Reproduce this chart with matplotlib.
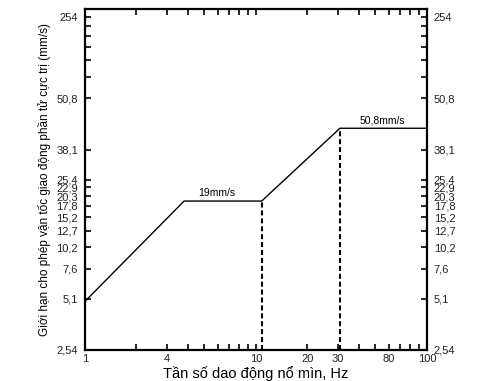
import matplotlib
matplotlib.use("Agg")
import matplotlib.pyplot as plt

# ---- data ----
freq = [1, 3.8, 10.8, 31, 100]          # Hz
vel = [4.9, 19, 19, 50.8, 50.8]         # mm/s
dash_freq = [10.8, 31]
dash_top = [19, 50.8]

# tick positions (log scale) and their printed labels as in the picture
x_tick_pos = [1, 2, 3, 4, 5, 6, 7, 8, 9, 10, 20, 30, 40, 50, 60, 70, 80, 90, 100]
x_label_pos = [1, 3, 10, 20, 30, 60, 100]
x_label_txt = ["1", "4", "10", "20", "30", "80", "100"]

base = 2.54
y_mult = [1, 2, 3, 4, 5, 6, 7, 8, 9, 10, 15, 30, 40, 50, 60, 70, 80, 90, 100]
y_label_mult = [1, 2, 3, 4, 5, 6, 7, 8, 9, 10, 15, 30, 90]
y_label_txt = ["2,54", "5,1", "7,6", "10,2", "12,7", "15,2", "17,8", "20,3",
               "22,9", "25,4", "38,1", "50,8", "254"]

annot_txt = ["19mm/s", "50,8mm/s"]
annot_x = [5.9, 55]
annot_y = [19, 50.8]

plt.rcParams['font.family'] = ['Liberation Sans', 'DejaVu Sans']

fig = plt.figure(figsize=(4.97, 3.81), dpi=100)
ax = fig.add_axes([0.171, 0.0814, 0.688, 0.8946])
ax.set_xscale('log')
ax.set_yscale('log')
ax.set_xlim(1, 100)
ax.set_ylim(base, base * 100)

ax.plot(freq, vel, color='black', lw=1.0, solid_joinstyle='miter')
for fx, ft in zip(dash_freq, dash_top):
    ax.plot([fx, fx], [base, ft], color='black', lw=1.5, linestyle=(0, (2.4, 1.4)))

for t, xx, yy in zip(annot_txt, annot_x, annot_y):
    ax.text(xx, yy * 1.04, t, ha='center', va='bottom', fontsize=7.5)

# ticks
ax.xaxis.set_major_locator(matplotlib.ticker.FixedLocator(x_tick_pos))
lab = []
for p in x_tick_pos:
    lab.append(x_label_txt[x_label_pos.index(p)] if p in x_label_pos else "")
ax.xaxis.set_major_formatter(matplotlib.ticker.FixedFormatter(lab))
ax.xaxis.set_minor_locator(matplotlib.ticker.NullLocator())

y_pos = [base * m for m in y_mult]
ylab = []
for m in y_mult:
    ylab.append(y_label_txt[y_label_mult.index(m)] if m in y_label_mult else "")
ax.yaxis.set_major_locator(matplotlib.ticker.FixedLocator(y_pos))
ax.yaxis.set_major_formatter(matplotlib.ticker.FixedFormatter(ylab))
ax.yaxis.set_minor_locator(matplotlib.ticker.NullLocator())

ax.tick_params(axis='both', which='major', direction='in', length=4, width=1.2,
               labelsize=8, top=True, right=True, labelright=True,
               color='black', labelcolor='#222222')
ax.tick_params(axis='x', pad=3)
ax.tick_params(axis='y', pad=5)

for s in ax.spines.values():
    s.set_linewidth(1.6)

ax.set_xlabel("Tần số dao động nổ mìn, Hz", fontsize=10.5, labelpad=1)
ax.set_ylabel("Giới hạn cho phép vận tốc giao động phần tử cực trị (mm/s)",
              fontsize=8.5, labelpad=4)

fig.savefig("out.png", dpi=100)
